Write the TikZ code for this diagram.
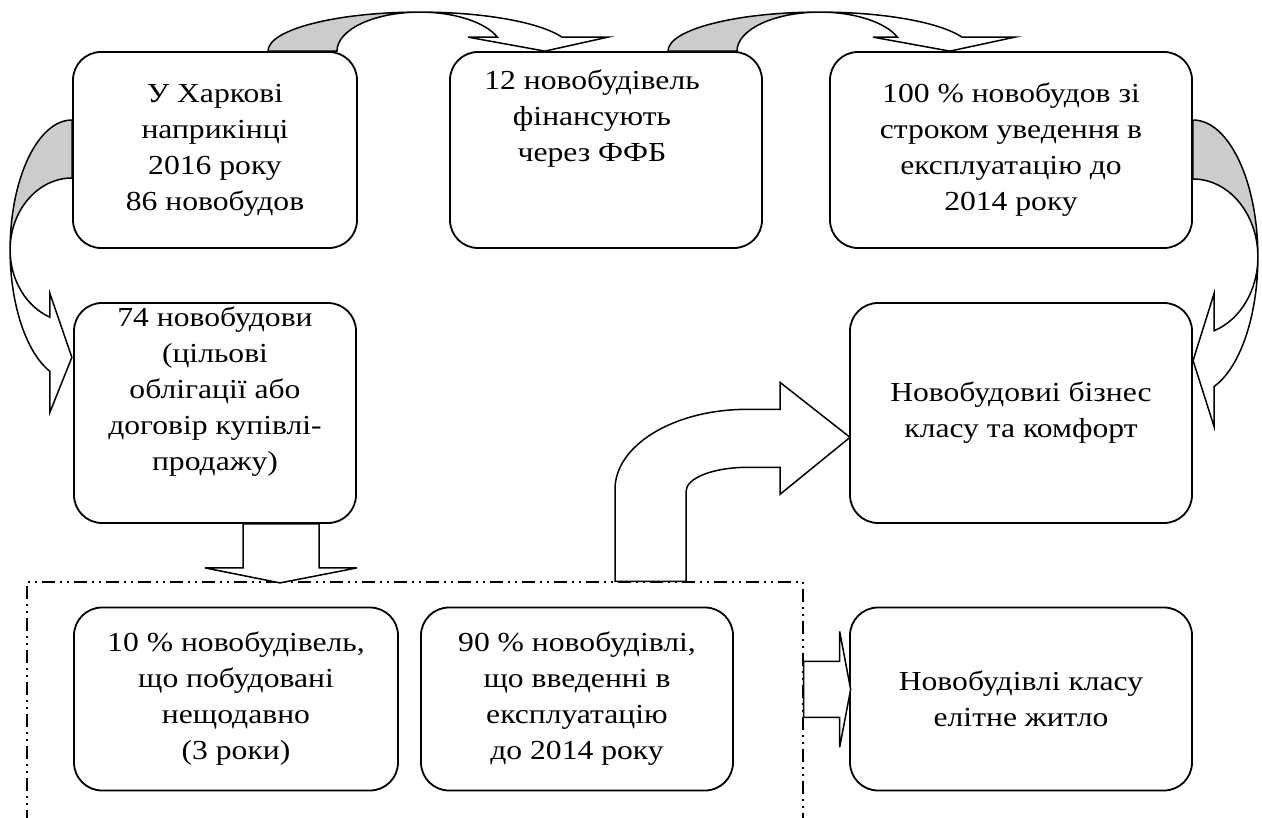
\documentclass[tikz,border=0pt]{standalone}
\usepackage{fontspec}
\setmainfont{Liberation Serif}[FakeStretch=1.15]
\begin{document}
\begin{tikzpicture}[x=1pt, y=1pt,
  font=\fontsize{27.5}{36}\selectfont,
  box/.style={draw, fill=white, line width=1.8pt, rounded corners=28pt, align=center, inner sep=0pt},
  blk/.style={draw, fill=white, line width=1.5pt, line join=miter},
  back/.style={draw, fill=gray!40, line width=1.5pt},
  grpbox/.style={draw, line width=1.3pt, inner sep=0pt, dash pattern=on 13pt off 5pt on 2pt off 5pt on 2pt off 5pt}]
\useasboundingbox (0,0) rectangle (1262,-818);

\node[grpbox, minimum width=776, minimum height=300] (grp) at (415,-732) {};

\node[box, minimum width=284, minimum height=196] (kh) at (215,-150) {У Харкові\\наприкінці\\2016 року\\86 новобудов};
\node[box, minimum width=312, minimum height=196] (fin) at (606,-150) {};
\node[align=center, inner sep=0pt, anchor=north] (finTxt) at (592,-70) {12 новобудівель\\фінансують\\через ФФБ};
\node[box, minimum width=362, minimum height=196] (doc) at (1011,-150) {100 \% новобудов зі\\строком уведення в\\експлуатацію до\\2014 року};
\node[box, minimum width=282, minimum height=220] (buy) at (215,-413) {};
\node[align=center, inner sep=0pt, anchor=north] (buyTxt) at (215,-307) {74 новобудови\\(цільові\\облігації або\\договір купівлі-\\продажу)};
\node[box, minimum width=342, minimum height=220] (comf) at (1021,-413) {Новобудовиі бізнес\\класу та комфорт};
\node[box, minimum width=324, minimum height=183] (new) at (236,-699) {10 \% новобудівель,\\що побудовані\\нещодавно\\(3 роки)};
\node[box, minimum width=312, minimum height=183] (old) at (577,-699) {90 \% новобудівлі,\\що введенні в\\експлуатацію\\до 2014 року};
\node[box, minimum width=342, minimum height=183] (elite) at (1021,-699) {Новобудівлі класу\\елітне житло};

\draw[back] ([xshift=53]kh.north) arc[start angle=180, end angle=90, x radius=152, y radius=39] coordinate (pk1) arc[start angle=90, end angle=180, x radius=83, y radius=39] -- cycle;
\draw[blk] (pk1) arc[start angle=90, end angle=21, x radius=152, y radius=39] -- ++(46,0) -- ++(-63,-14) -- ++(-77,14) -- ++(29.5,0) arc[start angle=21, end angle=90, x radius=83, y radius=39] -- cycle;

\draw[back] ([xshift=62]fin.north) arc[start angle=180, end angle=90, x radius=152, y radius=39] coordinate (pk2) arc[start angle=90, end angle=180, x radius=83, y radius=39] -- cycle;
\draw[blk] (pk2) arc[start angle=90, end angle=21, x radius=152, y radius=39] -- ++(53,0) -- ++(-65,-14) -- ++(-77,14) -- ++(24.5,0) arc[start angle=21, end angle=90, x radius=83, y radius=39] -- cycle;

\draw[back] ([yshift=30]kh.west) arc[start angle=90, end angle=180, x radius=62, y radius=130] coordinate (pkL) arc[start angle=180, end angle=90, x radius=62, y radius=72] -- cycle;
\draw[blk] (pkL) arc[start angle=180, end angle=249, x radius=62, y radius=130] -- ++(0,-41) -- ++(22,55) -- ++(-22,64) -- ++(0,-23.8) arc[start angle=249, end angle=180, x radius=62, y radius=72] -- cycle;

\draw[back] ([yshift=30]doc.east) arc[start angle=90, end angle=0, x radius=65, y radius=137] coordinate (pkR) arc[start angle=0, end angle=90, x radius=65, y radius=78] -- cycle;
\draw[blk] (pkR) arc[start angle=0, end angle=-71, x radius=65, y radius=137] -- ++(0,-40) -- ++(-21,66) -- ++(21,67) -- ++(0,-37.2) arc[start angle=-71, end angle=0, x radius=65, y radius=78] -- cycle;

\draw[blk] ([xshift=28]buy.south) -- ++(0,-44) -- ++(-38,0) -- ++(75,-15) -- ++(77,15) -- ++(-38,0) -- ++(0,44) -- cycle;
\draw[blk] ([xshift=200]grp.north) -- ++(0,92) arc[start angle=180, end angle=90, x radius=132, y radius=80] -- ++(33,0) -- ++(0,27) -- ++(70,-55) -- ++(-70,-57) -- ++(0,27) -- ++(-33,0) arc[start angle=90, end angle=180, x radius=61, y radius=24] -- ++(0,-90) -- cycle;
\draw[blk] ([yshift=-80]grp.north east) -- ++(36,0) -- ++(0,30) -- ++(11,-58) -- ++(-11,-58) -- ++(0,30) -- ++(-36,0) -- cycle;
\end{tikzpicture}
\end{document}
